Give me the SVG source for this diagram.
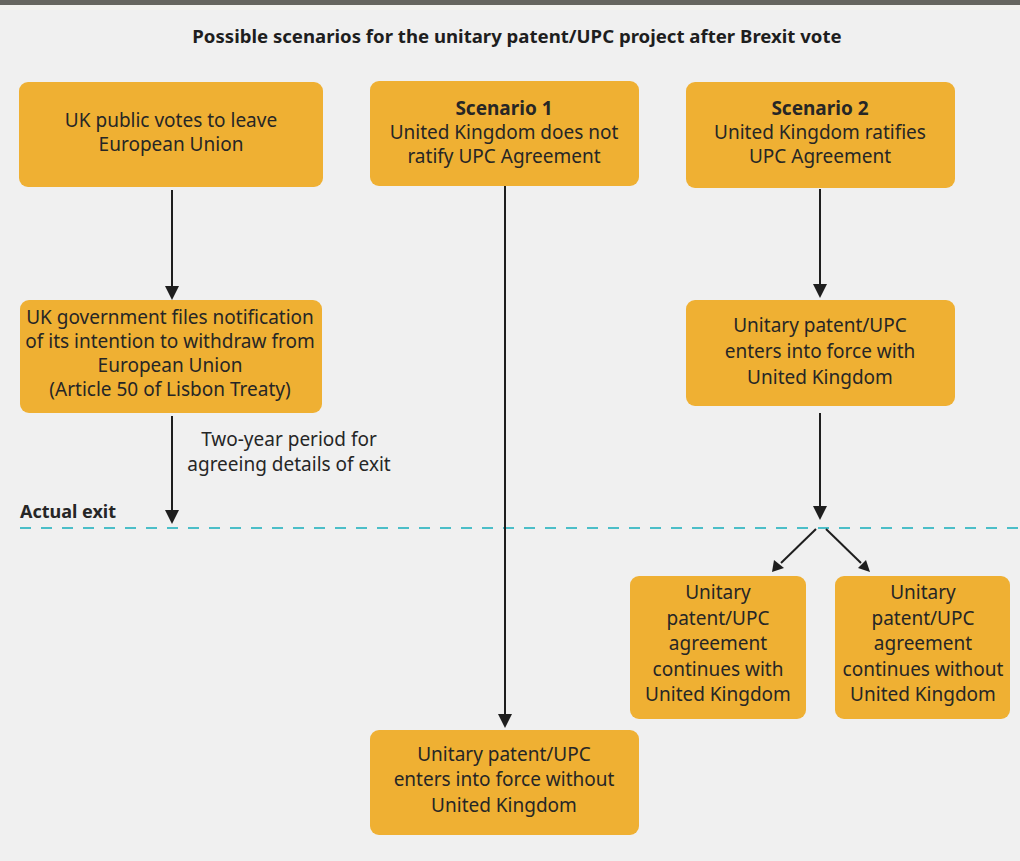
<svg xmlns="http://www.w3.org/2000/svg" width="1020" height="861" viewBox="0 0 1020 861">
<style>
.bg{fill:#f0f0f0}
.box{fill:#efb033}
.t{font-family:"Noto Sans","Open Sans",sans-serif;font-size:19px;fill:#262626;text-anchor:middle}
.b{font-weight:bold}
.title{font-family:"Noto Sans","Open Sans",sans-serif;font-size:18.6px;font-weight:bold;fill:#1e1e1e;text-anchor:middle}
.lbl{font-family:"Noto Sans","Open Sans",sans-serif;font-size:18px;font-weight:bold;fill:#262626}
.c{stroke:#1e1e1e;stroke-width:2;fill:none}
.h{fill:#1e1e1e}
.dash{stroke:#4bbec8;stroke-width:2;stroke-dasharray:11 10;fill:none}
</style>
<rect class="bg" x="0" y="0" width="1020" height="861"/>
<rect x="0" y="0" width="1020" height="5" fill="#646461"/>
<text class="title" x="517" y="43">Possible scenarios for the unitary patent/UPC project after Brexit vote</text>

<line class="dash" x1="20" y1="528" x2="1020" y2="528"/>
<text class="lbl" x="20" y="518">Actual exit</text>
<text class="t" x="289" y="446">Two-year period for</text>
<text class="t" x="289" y="471">agreeing details of exit</text>

<g id="connectors">
<line class="c" x1="172" y1="190" x2="172" y2="290"/>
<path class="h" d="M165,286 L172,300 L179,286 z"/>
<line class="c" x1="172" y1="416" x2="172" y2="514"/>
<path class="h" d="M165,510 L172,524 L179,510 z"/>
<line class="c" x1="505" y1="186" x2="505" y2="718"/>
<path class="h" d="M498,714 L505,728 L512,714 z"/>
<line class="c" x1="820" y1="189" x2="820" y2="288"/>
<path class="h" d="M813,284 L820,298 L827,284 z"/>
<line class="c" x1="820" y1="413" x2="820" y2="510"/>
<path class="h" d="M813,506 L820,520 L827,506 z"/>
<line class="c" x1="816" y1="529" x2="781" y2="563"/>
<path class="h" d="M774,560 L772,572 L784,568 z"/>
<line class="c" x1="826" y1="529" x2="861" y2="563"/>
<path class="h" d="M858,568 L870,572 L866,560 z"/>
</g>

<g id="n1">
<rect class="box" x="19" y="82" width="304" height="105" rx="9"/>
<text class="t" x="171" y="127">UK public votes to leave</text>
<text class="t" x="171" y="151">European Union</text>
</g>
<g id="n2">
<rect class="box" x="20" y="300" width="302" height="113" rx="9"/>
<text class="t" x="170" y="324">UK government files notification</text>
<text class="t" x="170" y="348">of its intention to withdraw from</text>
<text class="t" x="170" y="372">European Union</text>
<text class="t" x="170" y="396">(Article 50 of Lisbon Treaty)</text>
</g>
<g id="n3">
<rect class="box" x="370" y="81" width="269" height="105" rx="9"/>
<text class="t b" x="504" y="115">Scenario 1</text>
<text class="t" x="504" y="139">United Kingdom does not</text>
<text class="t" x="504" y="163">ratify UPC Agreement</text>
</g>
<g id="n4">
<rect class="box" x="686" y="82" width="269" height="106" rx="9"/>
<text class="t b" x="820" y="115">Scenario 2</text>
<text class="t" x="820" y="139">United Kingdom ratifies</text>
<text class="t" x="820" y="163">UPC Agreement</text>
</g>
<g id="n5">
<rect class="box" x="686" y="300" width="269" height="106" rx="9"/>
<text class="t" x="820" y="332">Unitary patent/UPC</text>
<text class="t" x="820" y="358">enters into force with</text>
<text class="t" x="820" y="384">United Kingdom</text>
</g>
<g id="n6">
<rect class="box" x="630" y="576" width="176" height="143" rx="9"/>
<text class="t" x="718" y="599">Unitary</text>
<text class="t" x="718" y="625">patent/UPC</text>
<text class="t" x="718" y="650">agreement</text>
<text class="t" x="718" y="676">continues with</text>
<text class="t" x="718" y="701">United Kingdom</text>
</g>
<g id="n7">
<rect class="box" x="835" y="576" width="175" height="143" rx="9"/>
<text class="t" x="923" y="599">Unitary</text>
<text class="t" x="923" y="625">patent/UPC</text>
<text class="t" x="923" y="650">agreement</text>
<text class="t" x="923" y="676">continues without</text>
<text class="t" x="923" y="701">United Kingdom</text>
</g>
<g id="n8">
<rect class="box" x="370" y="730" width="269" height="105" rx="9"/>
<text class="t" x="504" y="761">Unitary patent/UPC</text>
<text class="t" x="504" y="786">enters into force without</text>
<text class="t" x="504" y="812">United Kingdom</text>
</g>
</svg>
